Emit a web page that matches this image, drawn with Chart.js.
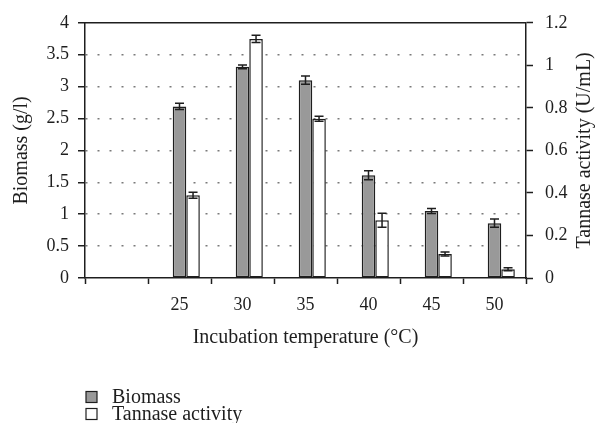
<!DOCTYPE html>
<html>
<head>
<meta charset="utf-8">
<script src="https://cdn.jsdelivr.net/npm/chart.js@4.4.1/dist/chart.umd.min.js"></script>
<style>
  html, body { margin: 0; padding: 0; background: #fff; }
</style>
</head>
<body>
<canvas id="chart" width="596" height="423"></canvas>
<script>
// values
const temps = ['', '25', '30', '35', '40', '45', '50'];
const biomass = [null, 2.69, 3.31, 3.10, 1.61, 1.05, 0.86];
const biomassErr = [null, 0.05, 0.03, 0.065, 0.07, 0.04, 0.065];
const tannase = [null, 0.389, 1.124, 0.749, 0.272, 0.113, 0.041];
const tannaseErr = [null, 0.014, 0.017, 0.012, 0.033, 0.009, 0.007];
const biomassTicks = ['0', '0.5', '1', '1.5', '2', '2.5', '3', '3.5', '4'];
const tannaseTicks = ['0', '0.2', '0.4', '0.6', '0.8', '1', '1.2'];
const rightTitle = 'Tannase activity (U/mL)';

const INK = '#1e1e1e';
const SERIF = '"Liberation Serif", "DejaVu Serif", serif';
Chart.defaults.font.family = SERIF;
Chart.defaults.color = INK;

// error bars from the err arrays attached to each dataset
const errorBars = {
  id: 'errorBars',
  afterDatasetsDraw(chart) {
    const ctx = chart.ctx;
    chart.data.datasets.forEach((ds, di) => {
      if (!ds.errors) return;
      const meta = chart.getDatasetMeta(di);
      const scale = chart.scales[ds.yAxisID];
      ctx.save();
      ctx.strokeStyle = INK;
      ctx.lineWidth = 1.5;
      meta.data.forEach((bar, i) => {
        const v = ds.data[i], e = ds.errors[i];
        if (v == null || e == null) return;
        const top = scale.getPixelForValue(v + e);
        const bot = scale.getPixelForValue(v - e);
        const x = bar.x;
        ctx.beginPath();
        ctx.moveTo(x, top); ctx.lineTo(x, bot);
        ctx.moveTo(x - 4.5, top); ctx.lineTo(x + 4.5, top);
        ctx.moveTo(x - 4.5, bot); ctx.lineTo(x + 4.5, bot);
        ctx.stroke();
      });
      ctx.restore();
    });
  }
};

// top frame line, right title (reads bottom-up) and the stacked legend
const frameAndLegend = {
  id: 'frameAndLegend',
  afterDraw(chart) {
    const ctx = chart.ctx;
    const a = chart.chartArea;
    ctx.save();
    ctx.strokeStyle = INK;
    ctx.lineWidth = 1.5;
    ctx.beginPath();
    ctx.moveTo(a.left, a.top);
    ctx.lineTo(a.right, a.top);
    ctx.stroke();

    ctx.font = '20px ' + SERIF;
    ctx.fillStyle = INK;
    ctx.textAlign = 'center';
    ctx.textBaseline = 'middle';
    ctx.save();
    ctx.translate(585, (a.top + a.bottom) / 2);
    ctx.rotate(-Math.PI / 2);
    ctx.fillText(rightTitle, 0, 0);
    ctx.restore();

    ctx.textAlign = 'left';
    const shown = chart.data.datasets.filter(d => d.label);
    shown.forEach((ds, i) => {
      const y = 397 + i * 17;
      ctx.fillStyle = ds.backgroundColor;
      ctx.fillRect(86, y - 5.5, 11, 11);
      ctx.lineWidth = 1.2;
      ctx.strokeStyle = INK;
      ctx.strokeRect(86, y - 5.5, 11, 11);
      ctx.fillStyle = INK;
      ctx.fillText(ds.label, 112, y + 1);
    });
    ctx.restore();
  }
};

new Chart(document.getElementById('chart'), {
  type: 'bar',
  data: {
    labels: temps,
    datasets: [
      // empty slot so the pair sits right of the category centre
      { label: '', data: temps.map(() => null), yAxisID: 'y', backgroundColor: 'rgba(0,0,0,0)' },
      {
        label: 'Biomass', data: biomass, errors: biomassErr, yAxisID: 'y',
        backgroundColor: '#999999', borderColor: INK, borderWidth: 1.5, borderSkipped: false
      },
      {
        label: 'Tannase activity', data: tannase, errors: tannaseErr, yAxisID: 'y1',
        backgroundColor: '#ffffff', borderColor: INK, borderWidth: 1.5, borderSkipped: false
      }
    ]
  },
  options: {
    responsive: false,
    animation: false,
    layout: { padding: { top: 22, bottom: 70, left: 0, right: 0 } },
    datasets: { bar: { categoryPercentage: 0.645, barPercentage: 1 } },
    plugins: { legend: { display: false }, tooltip: { enabled: false } },
    scales: {
      x: {
        grid: { drawOnChartArea: false, tickLength: 6, tickColor: INK, tickWidth: 1.5, offset: true },
        border: { color: INK, width: 1.5 },
        ticks: { padding: 10, font: { size: 18 }, maxRotation: 0 },
        title: { display: true, text: 'Incubation temperature (°C)', font: { size: 20 }, padding: { top: 0, bottom: 3 } },
        afterFit: s => { s.height = 75; }
      },
      y: {
        position: 'left',
        min: 0, max: 4,
        ticks: { stepSize: 0.5, padding: 9, font: { size: 18 }, callback: (v, i) => biomassTicks[i] },
        grid: {
          color: ctx => (ctx.tick && (ctx.tick.value === 0 || ctx.tick.value === 4)) ? 'rgba(0,0,0,0)' : '#7a7a7a',
          lineWidth: 1.5, tickLength: 7, tickColor: INK, tickWidth: 1.5
        },
        border: { color: INK, width: 1.5, dash: [2, 10] },
        title: { display: true, text: 'Biomass (g/l)', font: { size: 20 }, padding: { top: 10, bottom: 0 } },
        afterFit: s => { s.width = 85; }
      },
      y1: {
        position: 'right',
        min: 0, max: 1.2,
        ticks: { stepSize: 0.2, padding: 12, font: { size: 18 }, callback: (v, i) => tannaseTicks[i] },
        grid: { drawOnChartArea: false, tickLength: 7, tickColor: INK, tickWidth: 1.5 },
        border: { color: INK, width: 1.5 },
        afterFit: s => { s.width = 70; }
      }
    }
  },
  plugins: [errorBars, frameAndLegend]
});
</script>
</body>
</html>
